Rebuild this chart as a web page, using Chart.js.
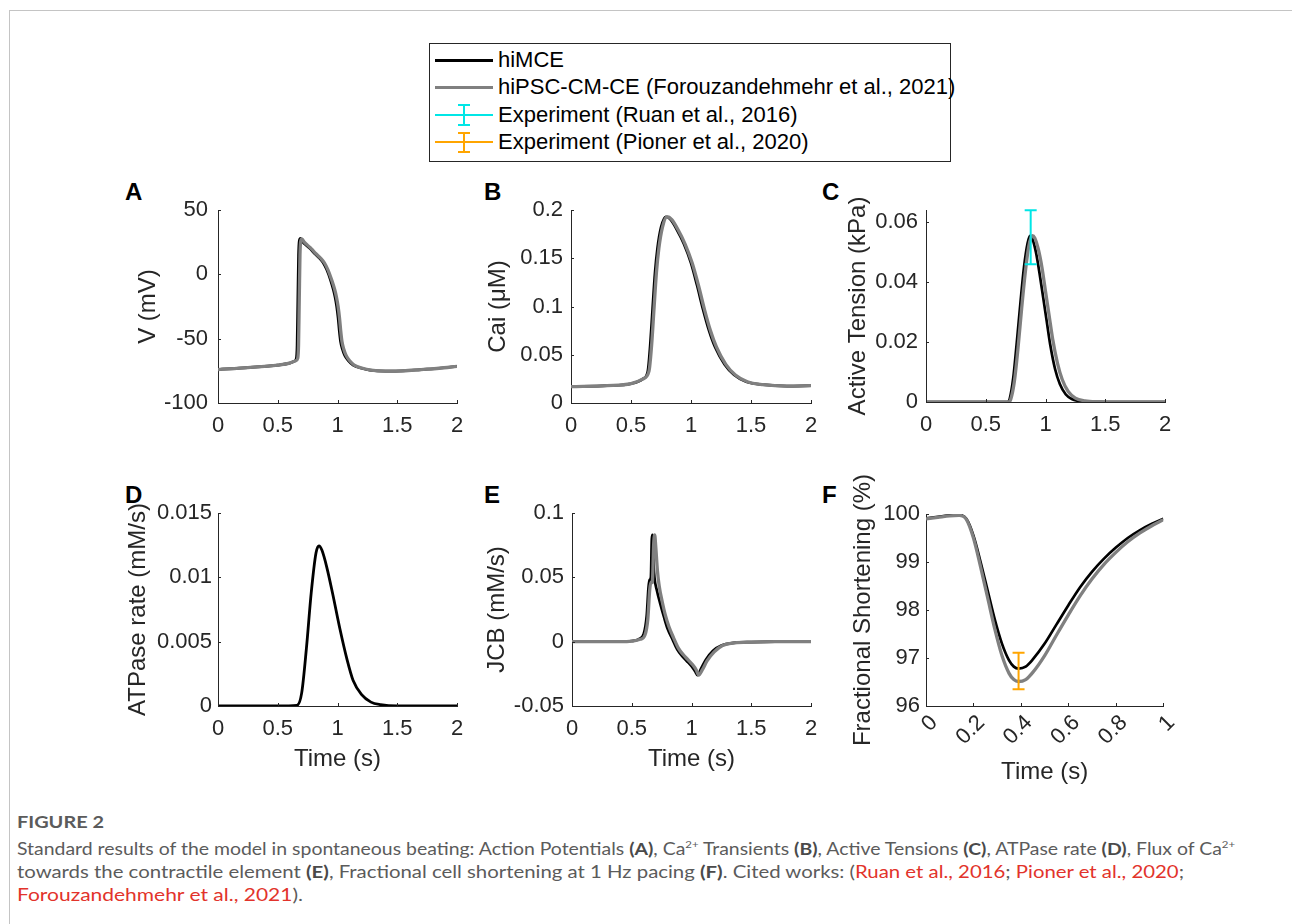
<!DOCTYPE html>
<html><head><meta charset="utf-8">
<script src="https://cdn.jsdelivr.net/npm/chart.js@4"></script>
<style>
html,body{margin:0;padding:0;background:#fff;}
body{width:1292px;height:924px;overflow:hidden;position:relative;font-family:"Liberation Sans",Arial,sans-serif;}
.frame{position:absolute;left:9px;top:10px;width:1300px;height:930px;border-top:1px solid #c4c4c4;border-left:1px solid #c4c4c4;}
canvas{position:absolute;}
.letter{position:absolute;font-weight:bold;font-size:24px;color:#000;line-height:24px;height:24px;}
.legend{position:absolute;left:429px;top:43px;width:520px;height:117px;border:1px solid #262626;background:#fff;}
.lg{position:absolute;left:68px;font-size:22px;line-height:24px;height:24px;color:#000;white-space:nowrap;}
.ls{position:absolute;left:5px;width:58px;}
.eb{position:absolute;}
.cap{position:absolute;left:17px;white-space:nowrap;transform-origin:0 50%;font-family:"Lato","Noto Sans",sans-serif;font-size:17px;line-height:22px;color:#5b5b5b;}
.cap b{color:#4a4a4a;}
.cap .r{color:#e2332b;}
.cap sup{font-size:10px;line-height:0;vertical-align:7px;}
</style></head>
<body>
<div class="frame"></div>

<div class="legend">
  <div class="ls" style="top:15px;height:3px;background:#000;"></div>
  <div class="lg" style="top:4px;">hiMCE</div>
  <div class="ls" style="top:42px;height:3px;background:#808080;"></div>
  <div class="lg" style="top:31px;">hiPSC-CM-CE (Forouzandehmehr et al., 2021)</div>
  <div class="ls" style="top:70px;height:2px;background:#00e6e6;"></div>
  <div class="eb" style="left:33px;top:60px;width:2px;height:21px;background:#00e6e6;"></div>
  <div class="eb" style="left:28px;top:60px;width:12px;height:2px;background:#00e6e6;"></div>
  <div class="eb" style="left:28px;top:80px;width:12px;height:2px;background:#00e6e6;"></div>
  <div class="lg" style="top:59px;">Experiment (Ruan et al., 2016)</div>
  <div class="ls" style="top:97px;height:2px;background:#ffa500;"></div>
  <div class="eb" style="left:33px;top:88px;width:2px;height:21px;background:#ffa500;"></div>
  <div class="eb" style="left:28px;top:88px;width:12px;height:2px;background:#ffa500;"></div>
  <div class="eb" style="left:28px;top:107px;width:12px;height:2px;background:#ffa500;"></div>
  <div class="lg" style="top:86px;">Experiment (Pioner et al., 2020)</div>
</div>

<div class="letter" style="left:125px;top:180px;">A</div>
<div class="letter" style="left:484px;top:180px;">B</div>
<div class="letter" style="left:822px;top:180px;">C</div>
<div class="letter" style="left:125px;top:483px;">D</div>
<div class="letter" style="left:484px;top:483px;">E</div>
<div class="letter" style="left:822px;top:483px;">F</div>

<canvas id="cA" width="343" height="273" style="left:134px;top:170px;"></canvas>
<canvas id="cB" width="347" height="273" style="left:484px;top:170px;"></canvas>
<canvas id="cC" width="341" height="272" style="left:844px;top:170px;"></canvas>
<canvas id="cD" width="353" height="301" style="left:124px;top:473px;"></canvas>
<canvas id="cE" width="348" height="301" style="left:483px;top:473px;"></canvas>
<canvas id="cF" width="337" height="313" style="left:849px;top:474px;"></canvas>

<div class="cap" id="cap0" data-w="87" style="top:811px;font-size:17px;font-weight:bold;">FIGURE 2</div>
<div class="cap" id="cap1" data-w="1218" style="top:838px;">Standard results of the model in spontaneous beating: Action Potentials <b>(A)</b>, Ca<sup>2+</sup> Transients <b>(B)</b>, Active Tensions <b>(C)</b>, ATPase rate <b>(D)</b>, Flux of Ca<sup>2+</sup></div>
<div class="cap" id="cap2" data-w="1167" style="top:861px;">towards the contractile element <b>(E)</b>, Fractional cell shortening at 1 Hz pacing <b>(F)</b>. Cited works: (<span class="r">Ruan et al., 2016</span>; <span class="r">Pioner et al., 2020</span>;</div>
<div class="cap" id="cap3" data-w="286" style="top:884px;"><span class="r">Forouzandehmehr et al., 2021</span>).</div>

<script>
// ---------- Data ----------
// Panel A: membrane potential V (mV) vs time (s)
const tA_hiMCE = [0, 0.25, 0.5, 0.6, 0.64, 0.655, 0.662, 0.668, 0.674, 0.68, 0.69, 0.71, 0.74, 0.77, 0.81, 0.85, 0.88, 0.91, 0.94, 0.965, 0.98, 0.993, 1.005, 1.015, 1.025, 1.04, 1.06, 1.09, 1.13, 1.2, 1.27, 1.4, 1.55, 1.7, 1.85, 2.0];
const vA_hiMCE = [-74, -72.5, -70.5, -69, -67.5, -65.5, -55, -20, 15, 26, 28, 25, 22.5, 20, 16, 12.5, 9, 3.5, -4, -12, -18, -25, -34, -44, -52, -58, -63, -67, -70.5, -73, -74.4, -75.2, -75, -74, -73, -71.5];
const tA_hiPSC = [0, 0.25, 0.5, 0.6, 0.65, 0.667, 0.674, 0.68, 0.686, 0.692, 0.702, 0.722, 0.75, 0.78, 0.82, 0.86, 0.89, 0.92, 0.95, 0.977, 0.992, 1.005, 1.017, 1.027, 1.037, 1.052, 1.072, 1.1, 1.14, 1.21, 1.28, 1.4, 1.55, 1.7, 1.85, 2.0];
const vA_hiPSC = [-74, -72.5, -70.5, -69, -67.2, -65.3, -55, -20, 15, 25.5, 27.5, 25, 22.5, 20, 16, 12.5, 9, 3.5, -4, -12, -18, -25, -34, -44, -52, -58, -63, -67, -70.5, -73, -74.4, -75.2, -75, -74, -73, -71.5];

// Panel B: Cai (uM)
const tB_hiMCE = [0, 0.3, 0.5, 0.6, 0.64, 0.66, 0.68, 0.70, 0.72, 0.75, 0.79, 0.83, 0.88, 0.94, 1.0, 1.05, 1.1, 1.15, 1.2, 1.28, 1.36, 1.46, 1.6, 1.8, 2.0];
const cB_hiMCE = [0.017, 0.018, 0.020, 0.025, 0.033, 0.06, 0.098, 0.135, 0.16, 0.182, 0.193, 0.19, 0.18, 0.165, 0.145, 0.122, 0.097, 0.075, 0.058, 0.040, 0.029, 0.022, 0.019, 0.0175, 0.018];
const tB_hiPSC = [0, 0.3, 0.5, 0.6, 0.65, 0.672, 0.692, 0.712, 0.732, 0.762, 0.80, 0.84, 0.89, 0.95, 1.01, 1.062, 1.112, 1.162, 1.212, 1.29, 1.37, 1.47, 1.6, 1.8, 2.0];
const cB_hiPSC = [0.017, 0.018, 0.020, 0.025, 0.033, 0.06, 0.098, 0.135, 0.16, 0.182, 0.193, 0.19, 0.18, 0.165, 0.145, 0.122, 0.097, 0.075, 0.058, 0.040, 0.029, 0.022, 0.019, 0.0175, 0.018];

// Panel C: Active tension (kPa)
const tC_hiMCE = [0, 0.5, 0.68, 0.70, 0.73, 0.76, 0.79, 0.82, 0.85, 0.87, 0.89, 0.92, 0.95, 0.98, 1.01, 1.04, 1.08, 1.12, 1.17, 1.22, 1.3, 1.4, 1.6, 2.0];
const aC_hiMCE = [0, 0, 0, 0.001, 0.008, 0.02, 0.033, 0.045, 0.053, 0.0555, 0.0545, 0.050, 0.043, 0.035, 0.027, 0.019, 0.011, 0.006, 0.0025, 0.001, 0.0002, 0, 0, 0];
const tC_hiPSC = [0, 0.5, 0.69, 0.71, 0.74, 0.77, 0.80, 0.83, 0.86, 0.89, 0.91, 0.94, 0.97, 1.0, 1.03, 1.06, 1.10, 1.14, 1.19, 1.25, 1.33, 1.45, 1.6, 2.0];
const aC_hiPSC = [0, 0, 0, 0.001, 0.007, 0.018, 0.031, 0.043, 0.052, 0.0555, 0.0548, 0.051, 0.045, 0.037, 0.029, 0.021, 0.013, 0.0075, 0.0035, 0.0013, 0.0004, 0.0001, 0, 0];
const ruanT = [0.876], ruanMean = [0.055], ruanErr = [0.009];

// Panel D: ATPase rate (mM/s)
const tD_hiMCE = [0, 0.5, 0.66, 0.70, 0.74, 0.78, 0.82, 0.845, 0.87, 0.91, 0.96, 1.02, 1.08, 1.13, 1.2, 1.28, 1.36, 1.5, 2.0];
const aD_hiMCE = [0, 0, 0.00005, 0.001, 0.0045, 0.0088, 0.0119, 0.01245, 0.0121, 0.0108, 0.0087, 0.006, 0.0036, 0.002, 0.0009, 0.0003, 0.0001, 0, 0];

// Panel E: JCB (mM/s)
const tE_hiMCE = [0, 0.4, 0.5, 0.56, 0.6, 0.625, 0.64, 0.65, 0.66, 0.668, 0.674, 0.68, 0.69, 0.71, 0.74, 0.77, 0.80, 0.84, 0.88, 0.92, 0.96, 1.0, 1.03, 1.05, 1.08, 1.12, 1.18, 1.25, 1.35, 1.5, 1.7, 2.0];
const jE_hiMCE = [0, 0, 0.0005, 0.002, 0.006, 0.02, 0.042, 0.048, 0.05, 0.08, 0.083, 0.065, 0.05, 0.04, 0.029, 0.019, 0.01, 0.002, -0.006, -0.011, -0.015, -0.019, -0.023, -0.026, -0.021, -0.014, -0.007, -0.003, -0.001, -0.0003, 0, 0];
const tE_hiPSC = [0, 0.4, 0.5, 0.57, 0.61, 0.635, 0.65, 0.66, 0.672, 0.683, 0.692, 0.70, 0.715, 0.73, 0.755, 0.78, 0.81, 0.85, 0.89, 0.93, 0.97, 1.01, 1.04, 1.06, 1.09, 1.13, 1.19, 1.26, 1.36, 1.5, 1.7, 2.0];
const jE_hiPSC = [0, 0, 0.0004, 0.0018, 0.005, 0.018, 0.04, 0.046, 0.046, 0.075, 0.083, 0.075, 0.055, 0.043, 0.031, 0.021, 0.012, 0.003, -0.005, -0.010, -0.014, -0.018, -0.022, -0.026, -0.022, -0.015, -0.008, -0.003, -0.001, -0.0003, 0, 0];

// Panel F: Fractional shortening (%) at 1 Hz
const tF = [0, 0.05, 0.1, 0.14, 0.17, 0.2, 0.23, 0.26, 0.29, 0.32, 0.35, 0.37, 0.39, 0.42, 0.45, 0.5, 0.55, 0.6, 0.65, 0.7, 0.75, 0.8, 0.85, 0.9, 0.95, 1.0];
const fF_hiMCE = [99.91, 99.94, 99.97, 99.98, 99.9, 99.55, 99.0, 98.4, 97.8, 97.3, 96.95, 96.82, 96.78, 96.82, 96.97, 97.3, 97.7, 98.1, 98.48, 98.8, 99.07, 99.3, 99.5, 99.66, 99.79, 99.9];
const fF_hiPSC = [99.9, 99.93, 99.96, 99.97, 99.89, 99.5, 98.9, 98.25, 97.6, 97.05, 96.68, 96.55, 96.51, 96.55, 96.7, 97.05, 97.48, 97.9, 98.3, 98.65, 98.95, 99.2, 99.42, 99.6, 99.75, 99.88];
const pionerT = [0.39], pionerMean = [96.73], pionerErr = [0.38];

// Tick values and labels
const xTicks2 = [0, 0.5, 1, 1.5, 2], xLabels2 = ['0', '0.5', '1', '1.5', '2'];
const xTicksF = [0, 0.2, 0.4, 0.6, 0.8, 1], xLabelsF = ['0', '0.2', '0.4', '0.6', '0.8', '1'];
const yTicksA = [-100, -50, 0, 50], yLabelsA = ['-100', '-50', '0', '50'];
const yTicksB = [0, 0.05, 0.1, 0.15, 0.2], yLabelsB = ['0', '0.05', '0.1', '0.15', '0.2'];
const yTicksC = [0, 0.02, 0.04, 0.06], yLabelsC = ['0', '0.02', '0.04', '0.06'];
const yTicksD = [0, 0.005, 0.01, 0.015], yLabelsD = ['0', '0.005', '0.01', '0.015'];
const yTicksE = [-0.05, 0, 0.05, 0.1], yLabelsE = ['-0.05', '0', '0.05', '0.1'];
const yTicksF = [96, 97, 98, 99, 100], yLabelsF = ['96', '97', '98', '99', '100'];

// ---------- Rendering ----------
const AXIS = '#262626';
const BLACK = '#000000', GRAY = '#808080';
const pts = (t, v) => t.map((x, i) => ({x: x, y: v[i]}));

const inwardTicks = {
  id: 'inwardTicks',
  afterDatasetsDraw(chart) {
    const ctx = chart.ctx, xs = chart.scales.x, ys = chart.scales.y, a = chart.chartArea;
    ctx.save();
    ctx.strokeStyle = AXIS; ctx.lineWidth = 1;
    xs.ticks.forEach(t => {
      const px = Math.round(xs.getPixelForValue(t.value)) + 0.5;
      ctx.beginPath(); ctx.moveTo(px, a.bottom); ctx.lineTo(px, a.bottom - 3); ctx.stroke();
    });
    ys.ticks.forEach(t => {
      const py = Math.round(ys.getPixelForValue(t.value)) + 0.5;
      ctx.beginPath(); ctx.moveTo(a.left, py); ctx.lineTo(a.left + 3, py); ctx.stroke();
    });
    ctx.restore();
  }
};
const errorBars = {
  id: 'errorBars',
  afterDatasetsDraw(chart, args, opts) {
    if (!opts || !opts.t) return;
    const ctx = chart.ctx, xs = chart.scales.x, ys = chart.scales.y;
    ctx.save();
    ctx.strokeStyle = opts.color; ctx.lineWidth = 2;
    opts.t.forEach((t, i) => {
      const px = xs.getPixelForValue(t);
      const top = ys.getPixelForValue(opts.mean[i] + opts.err[i]);
      const bot = ys.getPixelForValue(opts.mean[i] - opts.err[i]);
      ctx.beginPath();
      ctx.moveTo(px, top); ctx.lineTo(px, bot);
      ctx.moveTo(px - 6, top); ctx.lineTo(px + 6, top);
      ctx.moveTo(px - 6, bot); ctx.lineTo(px + 6, bot);
      ctx.stroke();
    });
    ctx.restore();
  }
};

const tickFont = {family: '"Liberation Sans", Arial, sans-serif', size: 22};
const titleFont = {family: '"Liberation Sans", Arial, sans-serif', size: 24};

function makePanel(id, cfg) {
  const datasets = cfg.series.map(s => ({
    data: pts(s.t, s.v), borderColor: s.color, borderWidth: s.width,
    pointRadius: 0, fill: false, cubicInterpolationMode: 'monotone', order: s.order
  }));
  new Chart(document.getElementById(id), {
    type: 'line',
    data: {datasets},
    options: {
      responsive: false, animation: false, events: [],
      layout: {padding: {top: 40, right: 20, left: 0, bottom: 0}},
      plugins: {legend: {display: false}, tooltip: {enabled: false}, errorBars: cfg.err || {}},
      scales: {
        x: {
          type: 'linear', min: cfg.xmin, max: cfg.xmax,
          afterFit: s => { s.height = cfg.xh; },
          afterBuildTicks: s => { s.ticks = cfg.xTicks.map(v => ({value: v})); },
          ticks: {callback: (v, i) => cfg.xLabels[i], font: tickFont, color: AXIS, padding: cfg.xpad,
                  autoSkip: false, minRotation: cfg.rot, maxRotation: cfg.rot, labelOffset: cfg.xoff || 0},
          grid: {display: false, drawTicks: false},
          border: {display: true, color: AXIS, width: 1},
          title: {display: !!cfg.xTitle, text: cfg.xTitle || '', font: titleFont, color: AXIS, padding: 0}
        },
        y: {
          type: 'linear', min: cfg.ymin, max: cfg.ymax,
          afterFit: s => { s.width = cfg.yw; },
          afterBuildTicks: s => { s.ticks = cfg.yTicks.map(v => ({value: v})); },
          ticks: {callback: (v, i) => cfg.yLabels[i], font: tickFont, color: AXIS, padding: cfg.ypad},
          grid: {display: false, drawTicks: false},
          border: {display: true, color: AXIS, width: 1},
          title: {display: true, text: cfg.yTitle, font: titleFont, color: AXIS, padding: 0}
        }
      }
    },
    plugins: [inwardTicks, errorBars]
  });
}

const common2 = {xmin: 0, xmax: 2, xTicks: xTicks2, xLabels: xLabels2, rot: 0, xpad: 10};

makePanel('cA', Object.assign({}, common2, {
  xh: 40, yw: 84, ypad: 10, ymin: -100, ymax: 50, yTicks: yTicksA, yLabels: yLabelsA, yTitle: 'V (mV)',
  series: [{t: tA_hiMCE, v: vA_hiMCE, color: BLACK, width: 2.7, order: 2}, {t: tA_hiPSC, v: vA_hiPSC, color: GRAY, width: 3.3, order: 1}]
}));
makePanel('cB', Object.assign({}, common2, {
  xh: 40, yw: 87, ypad: 8, ymin: 0, ymax: 0.2, yTicks: yTicksB, yLabels: yLabelsB, yTitle: 'Cai (\u03BCM)',
  series: [{t: tB_hiMCE, v: cB_hiMCE, color: BLACK, width: 2.7, order: 2}, {t: tB_hiPSC, v: cB_hiPSC, color: GRAY, width: 3.3, order: 1}]
}));
makePanel('cC', Object.assign({}, common2, {
  xh: 40, yw: 82, ypad: 8, ymin: 0, ymax: 0.0641, yTicks: yTicksC, yLabels: yLabelsC, yTitle: 'Active Tension (kPa)',
  series: [{t: tC_hiMCE, v: aC_hiMCE, color: BLACK, width: 2.7, order: 2}, {t: tC_hiPSC, v: aC_hiPSC, color: GRAY, width: 3.3, order: 1}],
  err: {t: ruanT, mean: ruanMean, err: ruanErr, color: '#00e6e6'}
}));
makePanel('cD', Object.assign({}, common2, {
  xh: 68, yw: 94, ypad: 6, ymin: 0, ymax: 0.015, yTicks: yTicksD, yLabels: yLabelsD, yTitle: 'ATPase rate (mM/s)', xTitle: 'Time (s)',
  series: [{t: tD_hiMCE, v: aD_hiMCE, color: BLACK, width: 2.8, order: 1}]
}));
makePanel('cE', Object.assign({}, common2, {
  xh: 68, yw: 89, ypad: 8, ymin: -0.05, ymax: 0.1, yTicks: yTicksE, yLabels: yLabelsE, yTitle: 'JCB (mM/s)', xTitle: 'Time (s)',
  series: [{t: tE_hiMCE, v: jE_hiMCE, color: BLACK, width: 2.7, order: 2}, {t: tE_hiPSC, v: jE_hiPSC, color: GRAY, width: 3.3, order: 1}]
}));
makePanel('cF', {
  xmin: 0, xmax: 1, xTicks: xTicksF, xLabels: xLabelsF, rot: 45, xpad: 4, xoff: 8,
  xh: 81, yw: 77, ypad: 6, ymin: 96, ymax: 100, yTicks: yTicksF, yLabels: yLabelsF, yTitle: 'Fractional Shortening (%)', xTitle: 'Time (s)',
  series: [{t: tF, v: fF_hiMCE, color: BLACK, width: 2.7, order: 2}, {t: tF, v: fF_hiPSC, color: GRAY, width: 3.3, order: 1}],
  err: {t: pionerT, mean: pionerMean, err: pionerErr, color: '#ffa500'}
});

// Fit caption lines to the reference widths
document.querySelectorAll('.cap').forEach(el => {
  const w = el.getBoundingClientRect().width;
  const target = +el.dataset.w;
  if (w > 0) el.style.transform = 'scaleX(' + (target / w).toFixed(4) + ')';
});
</script>
</body></html>
